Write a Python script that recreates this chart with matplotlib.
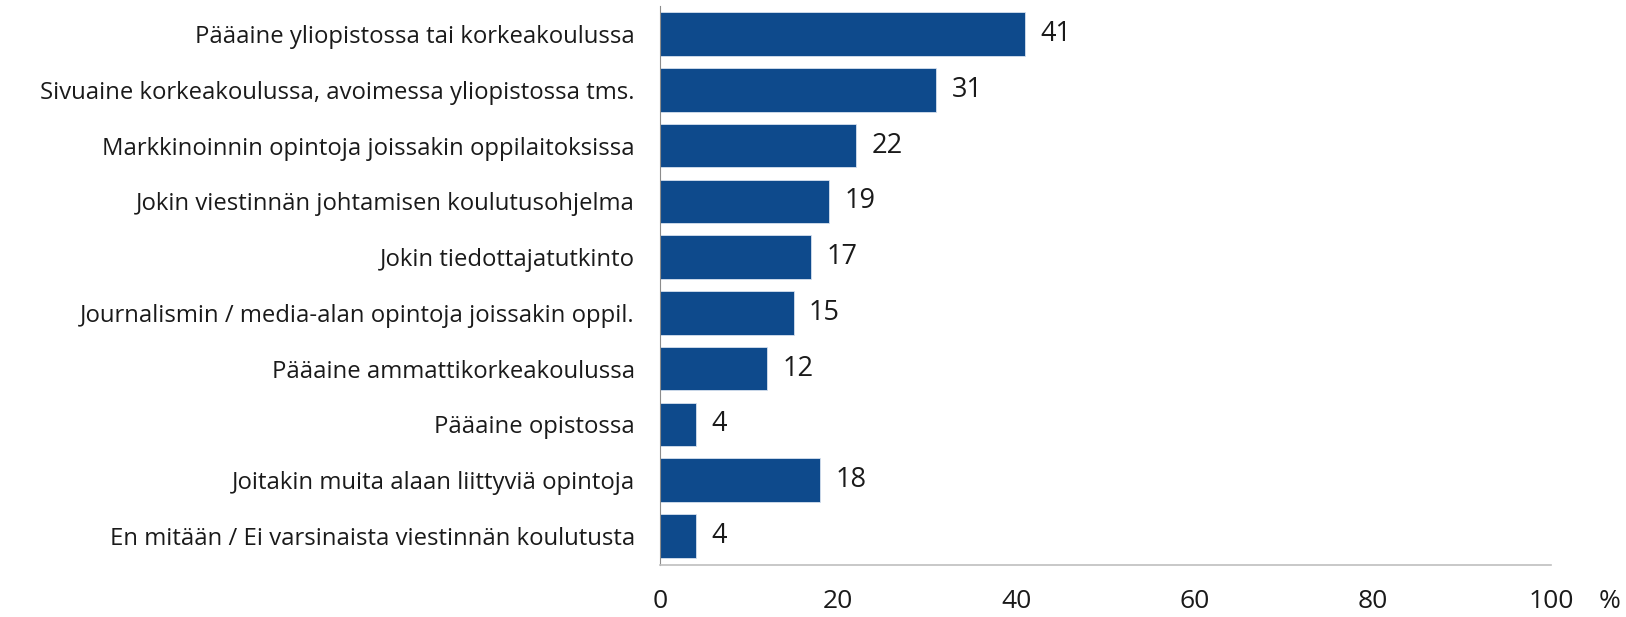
import matplotlib.pyplot as plt

categories = [
    "Pääaine yliopistossa tai korkeakoulussa",
    "Sivuaine korkeakoulussa, avoimessa yliopistossa tms.",
    "Markkinoinnin opintoja joissakin oppilaitoksissa",
    "Jokin viestinnän johtamisen koulutusohjelma",
    "Jokin tiedottajatutkinto",
    "Journalismin / media-alan opintoja joissakin oppil.",
    "Pääaine ammattikorkeakoulussa",
    "Pääaine opistossa",
    "Joitakin muita alaan liittyviä opintoja",
    "En mitään / Ei varsinaista viestinnän koulutusta",
]
values = [41, 31, 22, 19, 17, 15, 12, 4, 18, 4]
xticks = [0, 20, 40, 60, 80, 100]

plt.rcParams['font.family'] = ['Open Sans', 'DejaVu Sans']
txt = '#1a1a1a'

fig = plt.figure(figsize=(16.26, 6.17), dpi=100)
ax = fig.add_axes([0.4059, 0.0843, 0.548, 0.9057])

ypos = list(range(len(categories)))
ax.barh(ypos, values, height=0.78, color='#0e4a8c', edgecolor='#d6e0ee', linewidth=0.6)

for y, v in zip(ypos, values):
    ax.annotate(str(v), (v, y), xytext=(11, 0), textcoords='offset points',
                va='center', ha='left', fontsize=19.5, color=txt)

ax.set_xlim(0, 100)
ax.set_ylim(9.52, -0.5)
ax.set_yticks(ypos)
ax.set_yticklabels(categories, fontsize=17.2, color=txt)
ax.set_xticks(xticks)
ax.set_xticklabels([str(t) for t in xticks], fontsize=19, color=txt)
ax.tick_params(axis='both', length=0)
ax.tick_params(axis='y', pad=18)
ax.tick_params(axis='x', pad=17)

for s in ['top', 'right']:
    ax.spines[s].set_visible(False)
ax.spines['left'].set_color('#8c8c8c')
ax.spines['bottom'].set_color('#bfbfbf')
ax.spines['bottom'].set_linewidth(1.2)

fig.text(1610 / 1626, 1 - 602 / 617, "%", fontsize=19, ha='center', va='center', color=txt)

fig.savefig('out.png', dpi=100)
